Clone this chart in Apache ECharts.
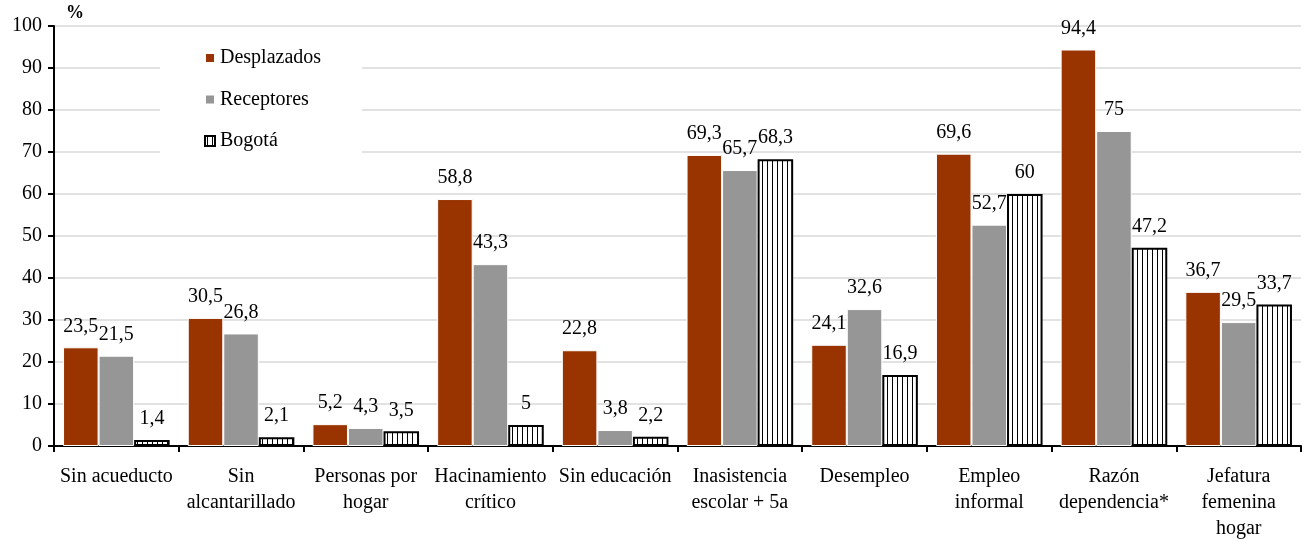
<!DOCTYPE html>
<html>
<head>
<meta charset="utf-8">
<script src="https://cdn.jsdelivr.net/npm/echarts@6/dist/echarts.min.js"></script>
<style>
  html, body { margin: 0; padding: 0; background: #fff; }
  #chart { width: 1311px; height: 542px; }
</style>
</head>
<body>
<div id="chart"></div>
<script>
// Indicator categories (line breaks as shown under the axis)
const categories = [
  'Sin acueducto',
  'Sin\nalcantarillado',
  'Personas por\nhogar',
  'Hacinamiento\ncrítico',
  'Sin educación',
  'Inasistencia\nescolar + 5a',
  'Desempleo',
  'Empleo\ninformal',
  'Razón\ndependencia*',
  'Jefatura\nfemenina\nhogar'
];

// Percentages per population group
const desplazados = [23.5, 30.5, 5.2, 58.8, 22.8, 69.3, 24.1, 69.6, 94.4, 36.7];
const receptores  = [21.5, 26.8, 4.3, 43.3, 3.8, 65.7, 32.6, 52.7, 75, 29.5];
const bogota      = [1.4, 2.1, 3.5, 5, 2.2, 68.3, 16.9, 60, 47.2, 33.7];

// Y axis ticks
const yTicks = [0, 10, 20, 30, 40, 50, 60, 70, 80, 90, 100];

const FONT = 'Liberation Serif, Times New Roman, Times, DejaVu Serif, serif';

// Vertical hatch fill for the Bogotá bars
const hatch = document.createElement('canvas');
hatch.width = 5;
hatch.height = 8;
(function () {
  const ctx = hatch.getContext('2d');
  ctx.fillStyle = '#ffffff';
  ctx.fillRect(0, 0, 5, 8);
  ctx.fillStyle = '#000000';
  ctx.fillRect(2, 0, 1, 8);
})();

const fmt = p => String(p.value).replace('.', ',');

const labelStyle = {
  show: true,
  position: 'top',
  distance: 11,
  fontFamily: FONT,
  fontSize: 20,
  color: '#000',
  formatter: fmt
};

const chart = echarts.init(document.getElementById('chart'), null, { renderer: 'canvas' });

chart.setOption({
  animation: false,
  backgroundColor: '#fff',
  textStyle: { fontFamily: FONT, color: '#000' },
  grid: { left: 54, right: 10, top: 26, bottom: 94, containLabel: false },
  legend: {
    orient: 'vertical',
    left: 160,
    top: 35,
    padding: [12, 41, 15, 44],
    backgroundColor: '#fff',
    itemWidth: 10,
    itemHeight: 10,
    itemGap: 19.5,
    icon: 'rect',
    textStyle: { fontFamily: FONT, fontSize: 20, color: '#000', lineHeight: 22 },
    data: [
      { name: 'Desplazados' },
      { name: 'Receptores' },
      { name: 'Bogotá', itemStyle: { borderColor: '#000', borderWidth: 2 } }
    ]
  },
  xAxis: {
    type: 'category',
    data: categories,
    axisLine: { show: true, lineStyle: { color: '#000', width: 2 } },
    axisTick: { show: true, length: 6, alignWithLabel: false, lineStyle: { color: '#000', width: 2 } },
    axisLabel: {
      interval: 0,
      margin: 18,
      fontFamily: FONT,
      fontSize: 20,
      lineHeight: 26,
      color: '#000'
    },
    splitLine: { show: false }
  },
  yAxis: {
    type: 'value',
    min: yTicks[0],
    max: yTicks[yTicks.length - 1],
    interval: yTicks[1] - yTicks[0],
    name: '%',
    nameLocation: 'end',
    nameGap: 4,
    nameTextStyle: {
      fontFamily: FONT,
      fontSize: 18,
      fontWeight: 'bold',
      color: '#000',
      align: 'left',
      padding: [0, 0, 0, 12]
    },
    axisLine: { show: true, lineStyle: { color: '#000', width: 2 } },
    axisTick: { show: true, length: 6, lineStyle: { color: '#000', width: 2 } },
    axisLabel: { margin: 12, fontFamily: FONT, fontSize: 20, color: '#000' },
    splitLine: { show: true, lineStyle: { color: '#d9d9d9', width: 1.5 } }
  },
  series: [
    {
      name: 'Desplazados',
      type: 'bar',
      data: desplazados,
      barGap: '0%',
      barCategoryGap: '14.5%',
      itemStyle: { color: '#993300', borderColor: '#ffffff', borderWidth: 1 },
      label: labelStyle
    },
    {
      name: 'Receptores',
      type: 'bar',
      data: receptores,
      itemStyle: { color: '#969696', borderColor: '#ffffff', borderWidth: 1 },
      label: labelStyle
    },
    {
      name: 'Bogotá',
      type: 'bar',
      data: bogota,
      itemStyle: {
        color: { image: hatch, repeat: 'repeat' },
        borderColor: '#000',
        borderWidth: 2
      },
      label: labelStyle
    }
  ]
});
</script>
</body>
</html>
